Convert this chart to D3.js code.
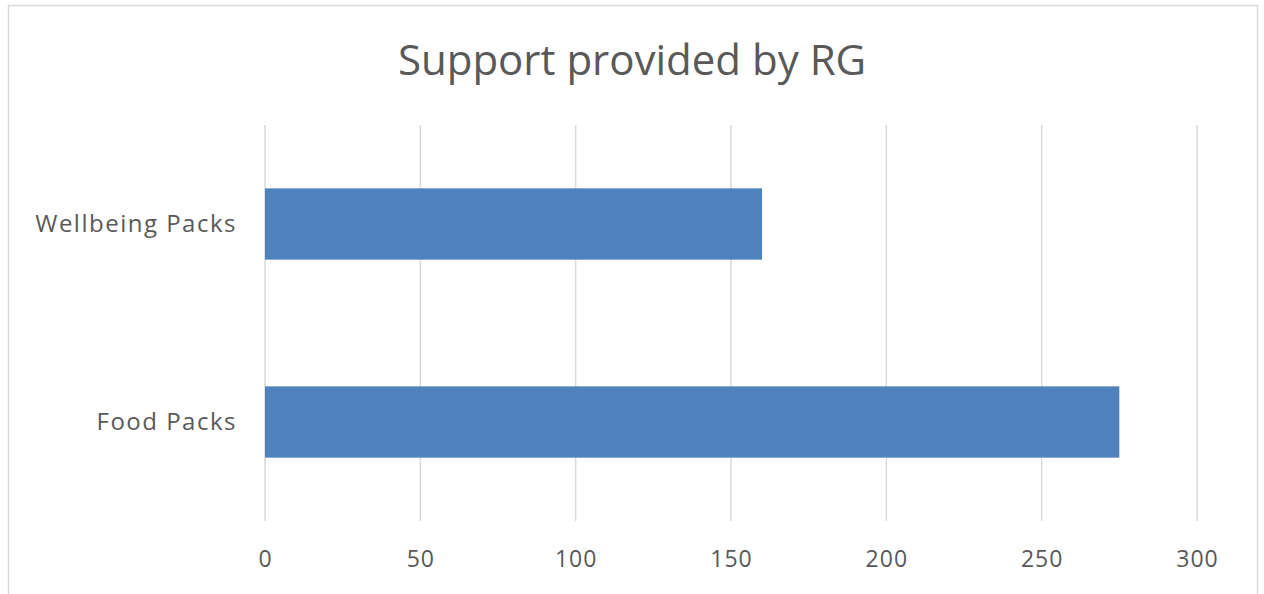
<!DOCTYPE html>
<html>
<head>
<meta charset="utf-8">
<script src="https://cdn.jsdelivr.net/npm/d3@7"></script>
<style>
  html, body { margin: 0; padding: 0; background: #fff; }
  svg { display: block; font-family: "Open Sans", "Noto Sans", sans-serif; }
</style>
</head>
<body>
<svg id="chart" width="1264" height="594"></svg>
<script>
// Chart data
const title = "Support provided by RG";
const categories = ["Wellbeing Packs", "Food Packs"];
const values = [160, 275];
const tickValues = [0, 50, 100, 150, 200, 250, 300];

const svg = d3.select("#chart");
const W = 1264, H = 594;
const margin = { top: 125, right: 67, bottom: 73, left: 265 };

// Outer chart frame
svg.append("rect")
  .attr("x", 8.5).attr("y", 5.5)
  .attr("width", 1249).attr("height", 600)
  .attr("fill", "#fff")
  .attr("stroke", "#d9d9d9").attr("stroke-width", 1.5);

const x = d3.scaleLinear()
  .domain([0, 300])
  .range([margin.left, W - margin.right]);

const y = d3.scaleBand()
  .domain(categories)
  .range([margin.top, H - margin.bottom])
  .paddingInner(0.64)
  .paddingOuter(0.32);

// Vertical gridlines
svg.append("g")
  .selectAll("line")
  .data(tickValues)
  .join("line")
  .attr("x1", d => x(d)).attr("x2", d => x(d))
  .attr("y1", margin.top).attr("y2", H - margin.bottom)
  .attr("stroke", "#d9d9d9").attr("stroke-width", 1.5);

// Bars
svg.append("g")
  .selectAll("rect")
  .data(categories)
  .join("rect")
  .attr("x", x(0))
  .attr("y", d => y(d))
  .attr("width", (d, i) => x(values[i]) - x(0))
  .attr("height", y.bandwidth())
  .attr("fill", "#4f81bd");

// Value axis labels
const xAxis = d3.axisBottom(x).tickValues(tickValues).tickSize(0).tickPadding(0);
const gx = svg.append("g")
  .attr("transform", `translate(0, ${H - margin.bottom + 30})`)
  .call(xAxis);
gx.select(".domain").remove();
gx.selectAll("text")
  .attr("fill", "#595959")
  .style("font-size", "23px")
  .style("letter-spacing", "1px")
  .style("font-family", "'Open Sans', 'Noto Sans', sans-serif");

// Category axis labels
const yAxis = d3.axisLeft(y).tickSize(0).tickPadding(28);
const gy = svg.append("g")
  .attr("transform", `translate(${margin.left}, 0)`)
  .call(yAxis);
gy.select(".domain").remove();
gy.selectAll("text")
  .attr("fill", "#595959")
  .style("font-size", "24px")
  .style("letter-spacing", "1.5px")
  .style("font-family", "'Open Sans', 'Noto Sans', sans-serif");

// Title
svg.append("text")
  .attr("x", 632).attr("y", 75)
  .attr("text-anchor", "middle")
  .attr("fill", "#595959")
  .style("font-size", "42px")
  .text(title);
</script>
</body>
</html>
